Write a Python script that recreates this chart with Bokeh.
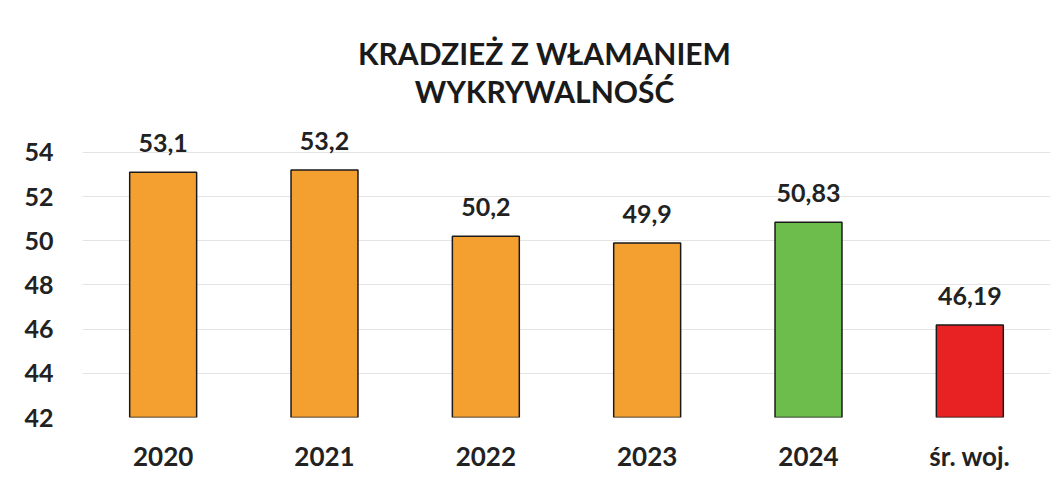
from bokeh.plotting import figure
from bokeh.models import Range1d, FactorRange, FixedTicker, ColumnDataSource
from bokeh.core.properties import value
from bokeh.embed import file_html
from bokeh.resources import INLINE

categories = ["2020", "2021", "2022", "2023", "2024", "śr. woj."]
values = [53.1, 53.2, 50.2, 49.9, 50.83, 46.19]
value_labels = ["53,1", "53,2", "50,2", "49,9", "50,83", "46,19"]
bar_colors = ["#F3A030", "#F3A030", "#F3A030", "#F3A030", "#6DBD4C", "#E82222"]
y_ticks = [42, 44, 46, 48, 50, 52, 54]
title_lines = ["KRADZIEŻ Z WŁAMANIEM", "WYKRYWALNOŚĆ"]

FONT = "Lato"
px_per_unit = 22.1
frame_h = 405
y_start = 42
y_end = y_start + frame_h / px_per_unit

p = figure(x_range=FactorRange(*categories, range_padding=0),
           y_range=Range1d(y_start, y_end),
           frame_width=968, frame_height=frame_h,
           min_border_left=82, min_border_right=6, min_border_top=12, min_border_bottom=0,
           output_backend="svg", toolbar_location=None)
p.outline_line_color = None
p.background_fill_color = "white"
p.border_fill_color = "white"

src = ColumnDataSource(dict(cat=categories, val=values, lab=value_labels, col=bar_colors))
p.vbar(x="cat", top="val", bottom=y_start, width=0.415, fill_color="col",
       line_color="#1a1a1a", line_width=1.5, source=src)
p.text(x="cat", y="val", text="lab", source=src, text_align="center",
       text_baseline="alphabetic", y_offset=-29, text_font=value(FONT),
       text_font_style="bold", text_font_size="25px", text_color="#222222")

# title as two centered lines
title_x = [2.864, 2.864]
title_y = [y_start + (417 - 62) / px_per_unit, y_start + (417 - 100) / px_per_unit]
p.text(x=title_x, y=title_y, text=title_lines, text_align="center",
       text_baseline="alphabetic", y_offset=-10, text_font=value(FONT),
       text_font_style="bold", text_font_size="30px", text_color="#1a1a1a")

p.yaxis.ticker = FixedTicker(ticks=y_ticks)
p.yaxis.axis_line_color = None
p.yaxis.major_tick_line_color = None
p.yaxis.minor_tick_line_color = None
p.yaxis.major_label_standoff = 23
p.yaxis.major_label_text_font = FONT
p.yaxis.major_label_text_font_style = "bold"
p.yaxis.major_label_text_font_size = "25px"
p.yaxis.major_label_text_color = "#222222"

p.xaxis.axis_line_color = None
p.xaxis.major_tick_line_color = None
p.xaxis.minor_tick_line_color = None
p.xaxis.major_label_standoff = 16
p.xaxis.major_label_text_font = FONT
p.xaxis.major_label_text_font_style = "bold"
p.xaxis.major_label_text_font_size = "26px"
p.xaxis.major_label_text_color = "#222222"

p.xgrid.grid_line_color = None
p.ygrid.ticker = FixedTicker(ticks=y_ticks)
p.ygrid.grid_line_color = "#e4e4e4"
p.ygrid.grid_line_width = 1

open("out.html", "w").write(file_html(p, INLINE))
